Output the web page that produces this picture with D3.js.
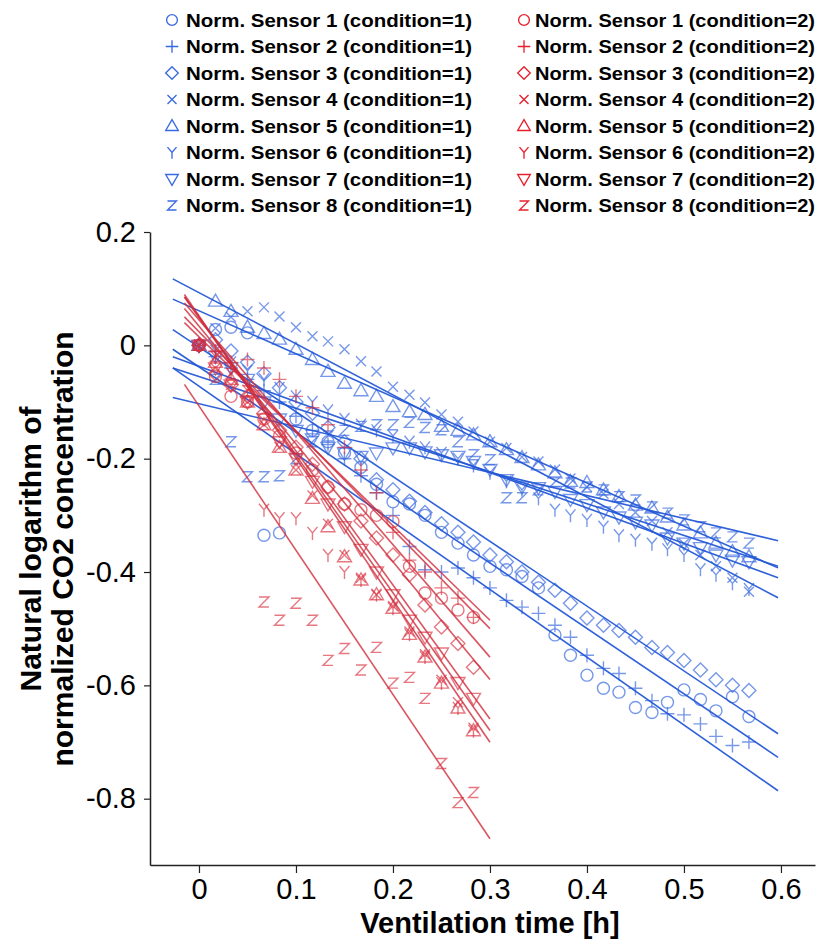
<!DOCTYPE html>
<html>
<head>
<meta charset="utf-8">
<script src="https://cdn.jsdelivr.net/npm/d3@7"></script>
<style>
  body { margin: 0; background: #fff; }
  text { font-family: "Liberation Sans", Arial, sans-serif; }
</style>
</head>
<body>
<div class="chart"></div>
<script>
// ventilation time [h], one reading per minute
var timeC1 = [0, 0.017, 0.033, 0.05, 0.067, 0.083, 0.1, 0.117, 0.133, 0.15, 0.167, 0.183, 0.2, 0.217, 0.233,
  0.25, 0.267, 0.283, 0.3, 0.317, 0.333, 0.35, 0.367, 0.383, 0.4, 0.417, 0.433, 0.45, 0.467, 0.483, 0.5,
  0.517, 0.533, 0.55, 0.567];
var timeC2 = [0, 0.017, 0.033, 0.05, 0.067, 0.083, 0.1, 0.117, 0.133, 0.15, 0.167, 0.183, 0.2, 0.217, 0.233,
  0.25, 0.267, 0.283];

// condition = 1
var c1s1 = [0, 0.028, 0.032, 0.022, -0.335, -0.331, -0.13, -0.15, -0.17, -0.19, -0.215, -0.245, -0.276, -0.28, -0.30,
  -0.33, -0.349, -0.37, -0.39, -0.396, -0.408, -0.428, -0.511, -0.547, -0.582, -0.605, -0.612, -0.639, -0.648, -0.63,
  -0.608, -0.625, -0.645, -0.62, -0.655];
var c1s2 = [0, -0.02, -0.04, -0.06, -0.08, -0.10, -0.125, -0.15, -0.175, -0.20, -0.23, -0.26, -0.30, -0.355, -0.396,
  -0.40, -0.393, -0.41, -0.428, -0.45, -0.462, -0.473, -0.494, -0.515, -0.547, -0.57, -0.579, -0.605, -0.627, -0.65,
  -0.652, -0.668, -0.69, -0.706, -0.70];
var c1s3 = [0, 0.01, -0.01, -0.03, -0.05, -0.075, -0.10, -0.12, -0.145, -0.17, -0.2, -0.237, -0.255, -0.275, -0.295,
  -0.315, -0.33, -0.347, -0.37, -0.382, -0.40, -0.418, -0.432, -0.455, -0.481, -0.494, -0.503, -0.515, -0.533, -0.542,
  -0.556, -0.573, -0.59, -0.60, -0.609];
var c1s4 = [0, 0.03, 0.05, 0.06, 0.067, 0.051, 0.032, 0.016, 0.007, -0.007, -0.028, -0.046, -0.073, -0.087, -0.101,
  -0.122, -0.135, -0.152, -0.17, -0.181, -0.197, -0.205, -0.219, -0.235, -0.25, -0.262, -0.28, -0.295, -0.31, -0.33,
  -0.35, -0.37, -0.39, -0.41, -0.435];
var c1s5 = [0, 0.078, 0.060, 0.032, 0.021, 0.011, -0.007, -0.025, -0.046, -0.067, -0.080, -0.09, -0.108, -0.117, -0.122,
  -0.143, -0.150, -0.158, -0.170, -0.184, -0.198, -0.211, -0.225, -0.24, -0.242, -0.255, -0.267, -0.282, -0.287, -0.303,
  -0.317, -0.331, -0.349, -0.364, -0.373];
var c1s6 = [0, -0.01, -0.03, -0.045, -0.06, -0.075, -0.09, -0.1, -0.115, -0.13, -0.14, -0.15, -0.16, -0.17, -0.18,
  -0.19, -0.2, -0.212, -0.225, -0.24, -0.255, -0.27, -0.29, -0.30, -0.308, -0.32, -0.335, -0.343, -0.35, -0.36,
  -0.37, -0.395, -0.405, -0.42, -0.43];
var c1s7 = [0, -0.02, -0.04, -0.06, -0.10, -0.13, -0.15, -0.165, -0.18, -0.19, -0.196, -0.19, -0.181, -0.181, -0.188,
  -0.193, -0.196, -0.205, -0.219, -0.237, -0.25, -0.251, -0.258, -0.272, -0.281, -0.294, -0.303, -0.312, -0.317, -0.34,
  -0.349, -0.357, -0.37, -0.379, -0.382];
var c1s8 = [0, -0.06, -0.17, -0.232, -0.232, -0.23, -0.2, -0.17, -0.16, -0.15, -0.143, -0.14, -0.14, -0.136, -0.145,
  -0.149, -0.17, -0.193, -0.202, -0.269, -0.269, -0.255, -0.241, -0.243, -0.25, -0.255, -0.267, -0.273, -0.285, -0.296,
  -0.308, -0.32, -0.331, -0.338, -0.349];

// condition = 2
var c2s1 = [0, -0.055, -0.09, -0.1, -0.13, -0.16, -0.19, -0.22, -0.25, -0.28, -0.29, -0.30, -0.311, -0.39, -0.437, -0.446, -0.467, -0.48];
var c2s2 = [0, -0.01, -0.03, -0.025, -0.04, -0.06, -0.09, -0.11, -0.14, -0.18, -0.22, -0.26, -0.33, -0.379, -0.40, -0.428, -0.446, -0.48];
var c2s3 = [0, -0.05, -0.07, -0.09, -0.12, -0.15, -0.18, -0.21, -0.25, -0.28, -0.31, -0.34, -0.37, -0.405, -0.458, -0.497, -0.526, -0.568];
var c2s4 = [0, -0.04, -0.07, -0.1, -0.14, -0.18, -0.22, -0.265, -0.315, -0.37, -0.41, -0.44, -0.46, -0.505, -0.545, -0.59, -0.63, -0.675];
var c2s5 = [0, -0.03, -0.06, -0.1, -0.14, -0.18, -0.22, -0.27, -0.32, -0.373, -0.414, -0.44, -0.464, -0.51, -0.55, -0.596, -0.64, -0.68];
var c2s6 = [0, -0.02, -0.05, -0.08, -0.29, -0.305, -0.305, -0.331, -0.37, -0.40, -0.414, -0.44, -0.464, -0.51, -0.55, -0.596, -0.64, -0.68];
var c2s7 = [0, -0.04, -0.07, -0.1, -0.13, -0.17, -0.2, -0.24, -0.28, -0.32, -0.36, -0.40, -0.44, -0.485, -0.515, -0.543, -0.595, -0.623];
var c2s8 = [0, -0.02, -0.05, -0.08, -0.453, -0.485, -0.455, -0.485, -0.556, -0.535, -0.573, -0.533, -0.596, -0.586, -0.623, -0.738, -0.807, -0.789];

// fitted lines (value at t=0 and slope per hour), sensors 1..8
var fitC1Intercept = [-0.038, -0.072, -0.003, 0.093, 0.061, -0.037, -0.055, -0.103];
var fitC1Slope     = [-1.154, -1.196, -1.143, -0.902, -0.760, -0.625, -0.561, -0.405];
var fitC2Intercept = [0.024, 0.015, 0.045, 0.049, 0.052, 0.034, 0.050, -0.107];
var fitC2Slope     = [-1.746, -1.667, -1.984, -2.429, -2.508, -2.079, -2.365, -2.546];
var fitC1Range = [-0.027, 0.597];
var fitC2Range = [-0.015, 0.3];

var xTicks = [0, 0.1, 0.2, 0.3, 0.4, 0.5, 0.6];
var yTicks = [0.2, 0, -0.2, -0.4, -0.6, -0.8];
var sensorNames = ["Norm. Sensor 1", "Norm. Sensor 2", "Norm. Sensor 3", "Norm. Sensor 4",
  "Norm. Sensor 5", "Norm. Sensor 6", "Norm. Sensor 7", "Norm. Sensor 8"];

var width = 818;
var height = 941;

var blue = "#3a6ae2";
var red = "#e8202e";

// marker shapes, one per sensor
var shapes = [
  "M-6,0a6,6 0 1,0 12,0a6,6 0 1,0 -12,0",
  "M-7,0H7M0,-7V7",
  "M0,-7L7,0L0,7L-7,0Z",
  "M-5,-5L5,5M-5,5L5,-5",
  "M0,-7L7,5L-7,5Z",
  "M-5,-6L0,0L5,-6M0,0V7",
  "M0,7L7,-5L-7,-5Z",
  "M-5,-5H5L-5,5H5"
];

var svg = d3.select(".chart")
  .append("svg")
  .attr("width", width)
  .attr("height", height);

var x = d3.scaleLinear().domain([-0.0505, 0.6351]).range([150, 815]);
var y = d3.scaleLinear().domain([-0.917, 0.2]).range([865, 232]);

// axes
var xAxis = svg.append("g")
  .attr("transform", "translate(0,865)")
  .call(d3.axisBottom(x).tickValues(xTicks).tickSize(8).tickSizeOuter(0).tickPadding(5)
    .tickFormat(function (d) { return d === 0 ? "0" : d3.format(".1f")(d); }));
var yAxis = svg.append("g")
  .attr("transform", "translate(150,0)")
  .call(d3.axisLeft(y).tickValues(yTicks).tickSize(6).tickSizeOuter(0).tickPadding(8)
    .tickFormat(function (d) { return d === 0 ? "0" : d3.format(".1f")(d).replace("\u2212", "-"); }));

[xAxis, yAxis].forEach(function (g) {
  g.select(".domain").attr("stroke", "#222").attr("stroke-width", 1.5);
  g.selectAll(".tick line").attr("stroke", "#222").attr("stroke-width", 1.2);
  g.selectAll(".tick text").attr("fill", "#000").style("font-size", "29px");
});

svg.append("text")
  .attr("x", 490).attr("y", 933)
  .attr("text-anchor", "middle")
  .style("font-size", "29px").style("font-weight", "bold")
  .text("Ventilation time [h]");

var yTitle = ["Natural logarithm of", "normalized CO2 concentration"];
yTitle.forEach(function (t, i) {
  svg.append("text")
    .attr("transform", "translate(" + (41 + i * 32) + ",549) rotate(-90)")
    .attr("text-anchor", "middle")
    .style("font-size", "30px").style("font-weight", "bold")
    .text(t);
});

function drawCondition(times, seriesList, intercepts, slopes, range, markerColor, lineColor, markerOpacity, lineOpacity) {
  var g = svg.append("g");
  seriesList.forEach(function (vals, i) {
    g.selectAll(null)
      .data(vals)
      .enter()
      .append("path")
      .attr("d", shapes[i])
      .attr("transform", function (d, k) { return "translate(" + x(times[k]) + "," + y(d) + ")"; })
      .attr("fill", "none")
      .attr("stroke", markerColor)
      .attr("stroke-width", 1.4)
      .attr("stroke-opacity", markerOpacity);
  });
  var lg = svg.append("g");
  lg.selectAll("line")
    .data(intercepts)
    .enter()
    .append("line")
    .attr("x1", x(range[0]))
    .attr("x2", x(range[1]))
    .attr("y1", function (d, i) { return y(d + slopes[i] * range[0]); })
    .attr("y2", function (d, i) { return y(d + slopes[i] * range[1]); })
    .attr("stroke", lineColor)
    .attr("stroke-width", 1.6)
    .attr("stroke-opacity", lineOpacity);
}

drawCondition(timeC1, [c1s1, c1s2, c1s3, c1s4, c1s5, c1s6, c1s7, c1s8],
  fitC1Intercept, fitC1Slope, fitC1Range, "#3d6ce0", "#2458d6", 0.7, 0.95);
drawCondition(timeC2, [c2s1, c2s2, c2s3, c2s4, c2s5, c2s6, c2s7, c2s8],
  fitC2Intercept, fitC2Slope, fitC2Range, "#d9303f", "#cf2a3a", 0.65, 0.8);

// legend
var legend = svg.append("g");
[[1, blue, 172, 186, 286], [2, red, 524, 535, 280]].forEach(function (col) {
  sensorNames.forEach(function (name, i) {
    var cy = 20 + i * 26.5;
    legend.append("path")
      .attr("d", shapes[i])
      .attr("transform", "translate(" + col[2] + "," + cy + ") scale(0.9)")
      .attr("fill", "none")
      .attr("stroke", col[1])
      .attr("stroke-width", 1.5);
    legend.append("text")
      .attr("x", col[3]).attr("y", cy + 6.5)
      .attr("textLength", col[4])
      .attr("lengthAdjust", "spacingAndGlyphs")
      .style("font-size", "17.5px").style("font-weight", "bold")
      .text(name + " (condition=" + col[0] + ")");
  });
});
</script>
</body>
</html>
